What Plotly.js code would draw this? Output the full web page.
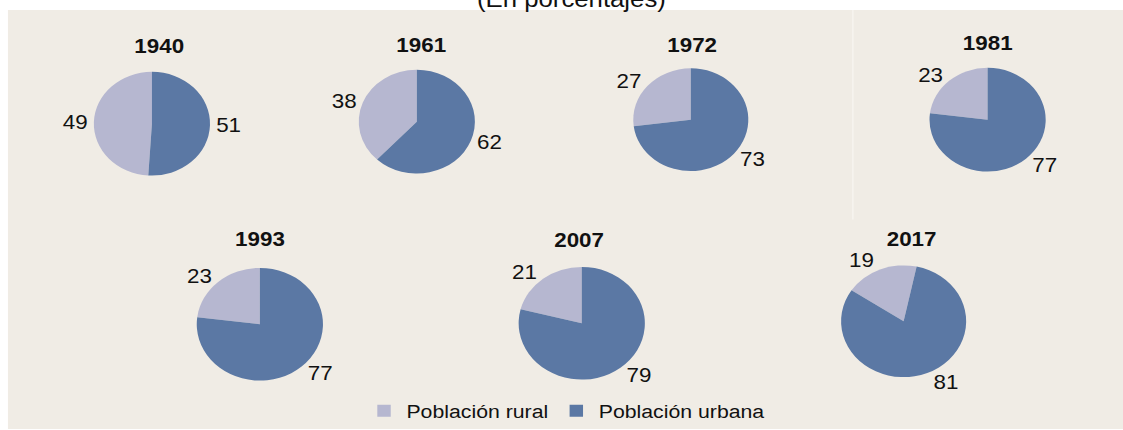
<!DOCTYPE html>
<html>
<head>
<meta charset="utf-8">
<script src="https://cdn.plot.ly/plotly-3.0.1.min.js"></script>
<style>
html,body{margin:0;padding:0;background:#fff;overflow:hidden;}
#chart{width:1003px;height:430px;transform:scaleX(1.1196);transform-origin:0 0;}
</style>
</head>
<body>
<div id="chart"></div>
<script>
var years = ['1940', '1961', '1972', '1981', '1993', '2007', '2017'];
var labels = ['Población rural', 'Población urbana'];
var rural = [49, 38, 27, 23, 23, 21, 19];
var urban = [51, 62, 73, 77, 77, 79, 81];
var colors = ['#b6b7d0', '#5b78a4'];

var W = 1003, H = 430;
// layout: pie centre (x, y) and radius in (unstretched) pixels
var pieCx = [135.7, 372.3, 617.0, 882.1, 232.1, 519.6, 807.1];
var pieCy = [124, 122, 120, 120, 325, 324, 322];
var pieR  = [52, 52, 51.5, 52, 56.5, 56.5, 56];
var titleX = [142.9, 376.8, 618.8, 882.1, 232.1, 517.9, 814.3];
var titleY = [46, 45, 45, 43, 240, 241, 240];
var rotOffset = [0, 0, 0, 0, 0, 0, 12];

var font = 'Liberation Sans, Arial, sans-serif';
var traces = years.map(function (y, i) {
  var cx = pieCx[i], cy = pieCy[i], r = pieR[i];
  return {
    type: 'pie',
    name: y,
    values: [rural[i], urban[i]],
    labels: labels,
    sort: false,
    direction: 'clockwise',
    rotation: -rural[i] * 3.6 + rotOffset[i],
    marker: {colors: colors, line: {width: 0}},
    textinfo: 'value',
    textposition: 'outside',
    textfont: {family: font, size: 20, color: '#111'},
    hoverinfo: 'label+value',
    domain: {x: [(cx - r - 12) / W, (cx + r + 12) / W], y: [1 - (cy + r) / H, 1 - (cy - r) / H]}
  };
});

var annotations = years.map(function (y, i) {
  return {
    text: '<b>' + y + '</b>', xref: 'paper', yref: 'paper',
    x: titleX[i] / W, y: 1 - titleY[i] / H, xanchor: 'center', yanchor: 'middle',
    showarrow: false, font: {family: font, size: 20, color: '#111'}
  };
});
annotations.push({
  text: '(En porcentajes)', xref: 'paper', yref: 'paper',
  x: 511 / W, y: 1 + 1 / H, xanchor: 'center', yanchor: 'middle',
  showarrow: false, font: {family: font, size: 23, color: '#111'}
});

var layout = {
  width: W, height: H,
  margin: {l: 0, r: 0, t: 0, b: 0},
  paper_bgcolor: '#ffffff',
  font: {family: font, color: '#111'},
  showlegend: true,
  legend: {orientation: 'h', x: 506 / W, xanchor: 'center', y: 1 - 412 / H, yanchor: 'middle',
           font: {family: font, size: 19, color: '#111'}, bgcolor: 'rgba(0,0,0,0)'},
  annotations: annotations,
  shapes: [
    {type: 'rect', xref: 'paper', yref: 'paper', x0: 7.1 / W, x1: 1, y0: 0, y1: 1 - 10 / H, fillcolor: '#f0ece5', line: {width: 0}, layer: 'below'},
    {type: 'line', xref: 'paper', yref: 'paper', x0: 761.8 / W, x1: 761.8 / W, y0: 1 - 10 / H, y1: 1 - 220 / H, line: {color: '#f9f7f3', width: 1}, layer: 'below'}
  ]
};

Plotly.newPlot('chart', traces, layout, {displayModeBar: false, staticPlot: true});
</script>
</body>
</html>
